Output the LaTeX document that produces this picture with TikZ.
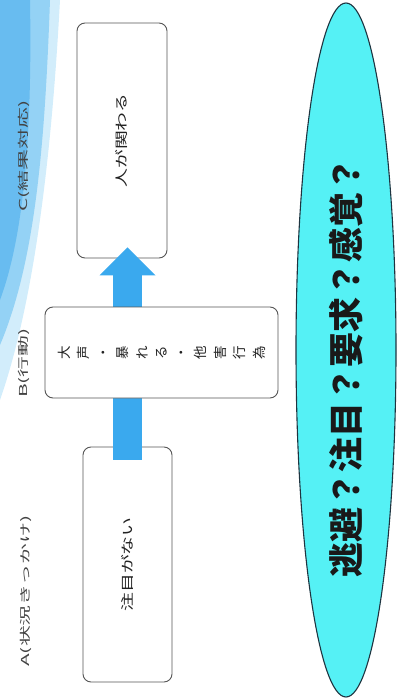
\documentclass[tikz,border=0pt]{standalone}
\usepackage{fontspec}
\usepackage{graphicx}
\setmainfont{Noto Sans CJK JP}
\usetikzlibrary{calc, shapes.geometric, arrows.meta}

\definecolor{arrowblue}{HTML}{3AA9EE}
\definecolor{ovalcyan}{HTML}{55F1F5}
\definecolor{ovaledge}{HTML}{1E3440}
\definecolor{boxgray}{HTML}{555555}
\definecolor{textdark}{HTML}{222222}
\definecolor{swooshpale}{HTML}{D2EDFB}
\definecolor{swooshmid}{HTML}{94D2F5}
\definecolor{swooshdeep}{HTML}{5DB7EF}

\newcommand{\sidetext}[1]{\rotatebox{90}{\scalebox{1.9}[1]{#1}}}
\newcommand{\boxtext}[1]{\rotatebox{90}{\scalebox{1.45}[1]{#1}}}

\begin{document}
\begin{tikzpicture}[
    x=1pt, y=-1pt,
    font=\fontsize{13}{15}\selectfont,
    flowbox/.style={rectangle, draw=boxgray, line width=0.9pt, fill=white, rounded corners=8pt, text=textdark, inner sep=0pt},
    sidelbl/.style={text=textdark!85, inner sep=0pt, font=\fontsize{11}{13}\selectfont},
    causeoval/.style={ellipse, draw=ovaledge, line width=1.1pt, fill=ovalcyan, inner sep=0pt, text=black!90, font=\fontsize{35}{35}\selectfont\bfseries},
    flowarrow/.style={draw=arrowblue, line width=29pt, -{Triangle[length=28pt, width=56pt, line width=0pt]}}
]
    \useasboundingbox (0,0) rectangle (397,700);

    % background swoosh
    \fill[swooshpale] (0,0) -- (60,0) .. controls (52,150) and (35,300) .. (0,400) -- cycle;
    \fill[swooshmid] (0,0) -- (50,0) .. controls (45,140) and (36,260) .. (0,345) -- cycle;
    \fill[swooshdeep, opacity=0.8] (0,0) -- (30,0) .. controls (32,120) and (26,230) .. (0,300) -- cycle;

    % side labels
    \node[sidelbl] (lblC) at (24,156) {\sidetext{C(結果対応)}};
    \node[sidelbl] (lblB) at (24,363) {\sidetext{B(行動)}};
    \node[sidelbl] (lblA) at (26,591) {\sidetext{A(状況きっかけ)}};

    % A and C
    \node[flowbox, minimum width=90pt, minimum height=235pt] (resultbox) at (122,140.5) {\boxtext{人が関わる}};
    \node[flowbox, minimum width=89pt, minimum height=235pt] (situationbox) at (127.5,564.5) {\boxtext{注目がない}};

    \draw[flowarrow] ($(situationbox.north)+(0,13)$) -- ($(resultbox.south -| situationbox.north)+(0,-11)$);

    % B
    \node[flowbox, minimum width=233pt, minimum height=91pt] (behaviorbox) at (161.5,352.5) {\rotatebox{90}{\parbox{15pt}{\centering\fontsize{13.5}{19.5}\selectfont 大\\声\\・\\暴\\れ\\る\\・\\他\\害\\行\\為}}};

    % function
    \node[causeoval, minimum width=100pt, minimum height=694pt] (reasonoval) at (346,350) {\rotatebox{90}{逃避？注目？要求？感覚？\hspace{34pt}}};

\end{tikzpicture}
\end{document}
